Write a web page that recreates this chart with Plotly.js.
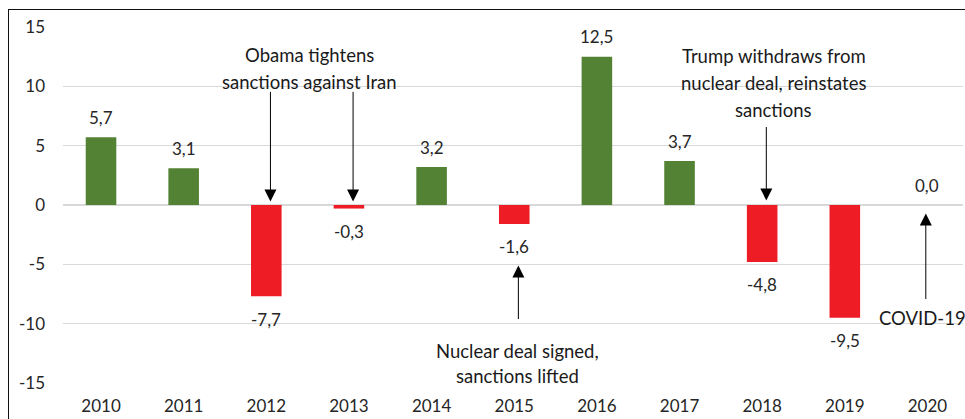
<!DOCTYPE html>
<html>
<head>
<meta charset="utf-8">
<script src="https://cdn.plot.ly/plotly-3.0.1.min.js"></script>
<style>
  html, body { margin: 0; padding: 0; background: #fff; overflow: hidden; }
  #chart { position: absolute; left: 0; top: 0; width: 965px; height: 419px; }
  #frame { position: absolute; left: 8px; top: 9px; width: 970px; height: 420px;
           border-left: 1.5px solid #111; border-top: 1.5px solid #111; pointer-events: none; }
</style>
</head>
<body>
<div id="chart"></div>
<div id="frame"></div>
<script>
// ---- data ----
const years  = ['2010','2011','2012','2013','2014','2015','2016','2017','2018','2019','2020'];
const growth = [5.7, 3.1, -7.7, -0.3, 3.2, -1.6, 12.5, 3.7, -4.8, -9.5, 0.0];
const yTicks = [-15, -10, -5, 0, 5, 10, 15];

// event notes: text lines, anchor position (category index, value)
const noteLines = [
  ['Obama tightens', 'sanctions against Iran'],
  ['Nuclear deal signed,', 'sanctions lifted'],
  ['Trump withdraws from', 'nuclear deal, reinstates', 'sanctions'],
  ['COVID-19']
];
const noteX  = [2.52, 5.04, 8.14, 9.94];
const noteY  = [[12.6, 10.33], [-12.27, -14.38], [12.52, 10.24, 7.97], [-9.49]];

// arrows: category index, tip value, tail value
const arrowX    = [2.05, 3.05, 5.05, 8.05, 9.98];
const arrowTip  = [0.3, 0.3, -5.1, 0.38, -0.72];
const arrowTail = [9.66, 9.66, -9.74, 6.7, -8.05];

// ---- styling ----
const GREEN = '#548235', RED = '#ee1c25';
const FONT = 'Lato, "Open Sans", sans-serif';
const fmt = v => v.toFixed(1).replace('.', ',');

const trace = {
  type: 'bar',
  x: years,
  y: growth,
  width: 0.37,
  marker: { color: growth.map(v => v < 0 ? RED : GREEN) },
  hoverinfo: 'x+y'
};

const annotations = [];
growth.forEach((v, i) => {
  annotations.push({
    x: i, y: v, xref: 'x', yref: 'y',
    text: fmt(v), showarrow: false,
    xanchor: 'center', yanchor: 'middle',
    yshift: v < 0 ? -23 : 20,
    font: { family: FONT, size: 17, color: '#262626' }
  });
});
noteLines.forEach((lines, n) => {
  lines.forEach((t, k) => {
    annotations.push({
      x: noteX[n], y: noteY[n][k], xref: 'x', yref: 'y',
      text: t, showarrow: false, xanchor: 'center', yanchor: 'middle',
      font: { family: FONT, size: 18.5, color: '#1a1a1a' }
    });
  });
});
arrowX.forEach((x, i) => {
  annotations.push({
    x: x, y: arrowTip[i], xref: 'x', yref: 'y',
    ax: x, ay: arrowTail[i], axref: 'x', ayref: 'y',
    text: '', showarrow: true,
    arrowhead: 2, arrowsize: 2.4, arrowwidth: 1, arrowcolor: '#000',
    standoff: 0, startstandoff: 0
  });
});

const layout = {
  width: 965, height: 419,
  margin: { l: 63, r: 2, t: 27, b: 36 },
  paper_bgcolor: '#fff', plot_bgcolor: '#fff',
  showlegend: false,
  font: { family: FONT, color: '#262626' },
  bargap: 0.6,
  xaxis: {
    type: 'category',
    range: [-0.46, 10.43],
    showgrid: false, zeroline: false, showline: false,
    ticks: '',
    tickfont: { family: FONT, size: 17, color: '#262626' },
    ticklabelstandoff: 11
  },
  yaxis: {
    range: [-15, 15],
    tickvals: yTicks,
    ticktext: yTicks.map(String),
    showgrid: true, gridcolor: '#d9d9d9', gridwidth: 1.5,
    zeroline: false, showline: false,
    ticks: '',
    tickfont: { family: FONT, size: 17, color: '#262626' },
    ticklabelstandoff: 17
  },
  annotations: annotations
};

Plotly.newPlot('chart', [trace], layout, { displayModeBar: false, staticPlot: true });
</script>
</body>
</html>
